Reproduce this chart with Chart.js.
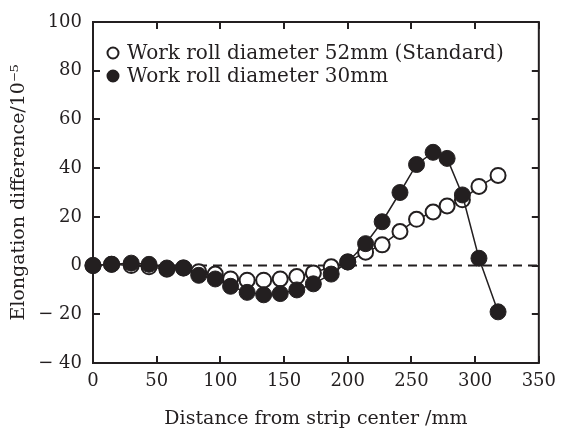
<!DOCTYPE html>
<html lang="en">
<head>
    <meta charset="UTF-8">
    <title>Elongation difference vs distance from strip center</title>
    <script src="https://cdn.jsdelivr.net/npm/chart.js"></script>
    <style>
        html, body {
            margin: 0;
            padding: 0;
            background: #fff;
        }
        #wrap {
            width: 564px;
            height: 433px;
        }
    </style>
</head>
<body>
    <div id="wrap"><canvas id="chart" width="564" height="433"></canvas></div>

    <script>
        // distance from strip center (mm)
        const distances = [0, 14.6, 30, 44, 58, 71, 83, 96, 108, 121, 134, 147, 160, 173, 187, 200, 214, 227, 241, 254, 267, 278, 290, 303, 318];
        // work roll diameter 52mm (standard) - open circles
        const roll52 = [0, 0.5, 0, -0.5, -1.5, -1, -2.5, -3.5, -5.5, -6, -6, -5.5, -4.5, -3, -0.5, 1.5, 5.5, 8.5, 14, 19, 22, 24.5, 27, 32.5, 37];
        // work roll diameter 30mm - filled circles
        const roll30 = [0, 0.5, 1, 0.5, -1, -1, -4, -5.5, -8.5, -11, -12, -11.5, -10, -7.5, -3.5, 1.5, 9, 18, 30, 41.5, 46.5, 44, 29, 3, -19];
        const zeroLineX = [0, 350];

        const legendLabels = ['Work roll diameter 52mm (Standard)', 'Work roll diameter 30mm'];
        const xTitle = 'Distance from strip center /mm';
        const yTitle = 'Elongation difference/10⁻⁵';

        const ink = '#231f20';
        const fontFamily = "'DejaVu Serif', serif";

        const toPoints = (xs, ys) => xs.map((x, i) => ({ x: x, y: ys[i] }));

        // frame + inward tick marks on all four sides
        const framePlugin = {
            id: 'frame',
            beforeDatasetsDraw(chart) {
                const { ctx, chartArea: a, scales } = chart;
                ctx.save();
                ctx.strokeStyle = ink;
                ctx.lineWidth = 2;
                ctx.strokeRect(a.left, a.top, a.right - a.left, a.bottom - a.top);
                const len = 7;
                ctx.beginPath();
                scales.x.ticks.forEach(t => {
                    const px = Math.round(scales.x.getPixelForValue(t.value));
                    ctx.moveTo(px, a.bottom); ctx.lineTo(px, a.bottom - len);
                    ctx.moveTo(px, a.top); ctx.lineTo(px, a.top + len);
                });
                scales.y.ticks.forEach(t => {
                    const py = Math.round(scales.y.getPixelForValue(t.value));
                    ctx.moveTo(a.left, py); ctx.lineTo(a.left + len, py);
                    ctx.moveTo(a.right, py); ctx.lineTo(a.right - len, py);
                });
                ctx.stroke();
                ctx.restore();
            }
        };

        // legend drawn inside the plot area, top left
        const innerLegend = {
            id: 'innerLegend',
            afterDatasetsDraw(chart) {
                const { ctx, chartArea: a } = chart;
                const sets = [chart.data.datasets[1], chart.data.datasets[0]];
                ctx.save();
                ctx.font = '20px ' + fontFamily;
                ctx.textBaseline = 'middle';
                sets.forEach((ds, i) => {
                    const cx = a.left + 20;
                    const cy = a.top + 31 + i * 23;
                    ctx.beginPath();
                    ctx.arc(cx, cy, 5.5, 0, Math.PI * 2);
                    ctx.fillStyle = ds.pointBackgroundColor;
                    ctx.fill();
                    ctx.lineWidth = 2;
                    ctx.strokeStyle = ink;
                    ctx.stroke();
                    ctx.fillStyle = ink;
                    ctx.fillText(legendLabels[i], cx + 14, cy + 1);
                });
                ctx.restore();
            }
        };

        const ctx = document.getElementById('chart').getContext('2d');
        new Chart(ctx, {
            type: 'line',
            data: {
                datasets: [
                    {
                        label: legendLabels[1],
                        data: toPoints(distances, roll30),
                        borderColor: ink,
                        borderWidth: 1.5,
                        pointRadius: 8,
                        pointBackgroundColor: ink,
                        pointBorderColor: ink,
                        pointBorderWidth: 1,
                        clip: false,
                        order: 0
                    },
                    {
                        label: legendLabels[0],
                        data: toPoints(distances, roll52),
                        borderColor: ink,
                        borderWidth: 1.5,
                        pointRadius: 7.5,
                        pointBackgroundColor: '#ffffff',
                        pointBorderColor: ink,
                        pointBorderWidth: 2,
                        clip: false,
                        order: 1
                    },
                    {
                        label: 'zero',
                        data: toPoints(zeroLineX, [0, 0]),
                        borderColor: ink,
                        borderWidth: 2,
                        borderDash: [9, 6],
                        pointRadius: 0,
                        order: 2
                    }
                ]
            },
            options: {
                responsive: false,
                animation: false,
                layout: { padding: { top: 22, right: 17, left: 0, bottom: 0 } },
                plugins: {
                    legend: { display: false },
                    tooltip: { enabled: false }
                },
                scales: {
                    x: {
                        type: 'linear',
                        min: 0,
                        max: 350,
                        afterFit: s => { s.height = 70; },
                        grid: { display: false, drawTicks: false },
                        border: { display: false },
                        ticks: {
                            stepSize: 50,
                            padding: 8,
                            color: ink,
                            font: { family: fontFamily, size: 18 }
                        },
                        title: {
                            display: true,
                            text: xTitle,
                            color: ink,
                            padding: { top: 0, bottom: 3 },
                            font: { family: fontFamily, size: 19 }
                        }
                    },
                    y: {
                        min: -40,
                        max: 100,
                        afterFit: s => { s.width = 93; },
                        grid: { display: false, drawTicks: false },
                        border: { display: false },
                        ticks: {
                            stepSize: 20,
                            padding: 11,
                            color: ink,
                            font: { family: fontFamily, size: 18 },
                            callback: v => v < 0 ? '− ' + Math.abs(v) : String(v)
                        },
                        title: {
                            display: true,
                            text: yTitle,
                            color: ink,
                            padding: { top: 8, bottom: 0 },
                            font: { family: fontFamily, size: 19 }
                        }
                    }
                }
            },
            plugins: [framePlugin, innerLegend]
        });
    </script>
</body>
</html>
